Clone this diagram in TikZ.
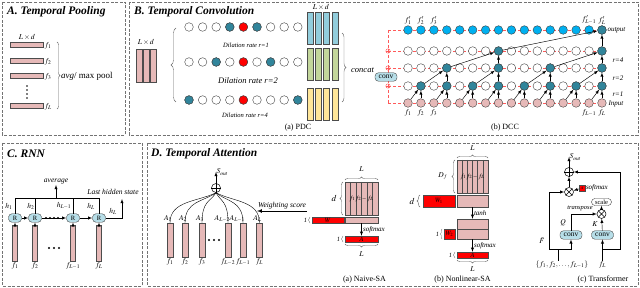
\documentclass[tikz,border=0pt]{standalone}
\usepackage{mathptmx}
\usepackage{fontspec}
\setmainfont{Liberation Serif}
\usepackage{amsmath,amssymb}
\usetikzlibrary{arrows,shapes,calc,decorations.pathreplacing}

\definecolor{pinkbar}{RGB}{230,185,184}
\definecolor{tealc}{RGB}{49,133,155}
\definecolor{skyc}{RGB}{0,176,240}
\definecolor{convc}{RGB}{183,222,232}
\definecolor{bluebar}{RGB}{146,205,220}
\definecolor{greenbar}{RGB}{195,214,155}
\definecolor{yellowbar}{RGB}{255,230,153}
\definecolor{dashred}{RGB}{255,90,90}

\tikzset{
panel/.style={draw=black!55,dash pattern=on 3pt off 1.5pt,line width=0.6pt},
ttl/.style={anchor=west,inner sep=0pt,font=\fontsize{11.5}{13}\selectfont\bfseries\itshape},
lbl/.style={inner sep=0.3pt,font=\fontsize{7}{8}\selectfont\itshape},
slbl/.style={inner sep=0.3pt,font=\fontsize{6.5}{7}\selectfont\itshape},
mlbl/.style={inner sep=0.3pt,font=\fontsize{7.5}{8}\selectfont},
capt/.style={inner sep=0.5pt,font=\fontsize{8}{9}\selectfont},
pbar/.style={draw=black!70,fill=pinkbar,inner sep=0pt,line width=0.4pt},
cdot/.style={circle,draw=black!75,fill=white,minimum size=8.6pt,inner sep=0pt,line width=0.4pt},
tdot/.style={cdot,fill=tealc},
pdot/.style={cdot,fill=pinkbar},
sdot/.style={cdot,fill=skyc},
convbox/.style={draw=black!75,fill=convc,rounded corners=3.5pt,minimum width=22pt,minimum height=8.5pt,inner sep=0pt,font=\fontsize{7.5}{8}\selectfont},
redbox/.style={draw=black!70,fill=red,inner sep=0pt,font=\fontsize{6.5}{7}\selectfont},
brc/.style={decorate,decoration={brace,amplitude=#1},draw=black!60},
brc/.default=3pt,
arr/.style={-latex,line width=0.45pt},
opnode/.style={circle,draw,minimum size=9pt,inner sep=0pt,line width=0.5pt}
}

\begin{document}
\begin{tikzpicture}[x=1pt,y=-1pt]
\useasboundingbox (0,0) rectangle (640,288);
\draw[panel] (2,2) rectangle (125,135) (129,2) rectangle (638,135)
  (2,143) rectangle (142,286) (147,143) rectangle (638,286);

% A
\node[ttl] (ta) at (7,12) {A. Temporal Pooling};
\node[mlbl] (ald) at (27,37) {$L\times d$};
\foreach \n/\y/\tx in {1/45/f_1,2/61/f_2,3/76/f_3,4/106/f_L}{
  \node[pbar,minimum width=33pt,minimum height=5pt] (pa\n) at (26.5,\y) {};
  \node[mlbl,anchor=west] (fa\n) at ($(pa\n.east)+(1,1)$) {$\tx$};
}
\foreach \y in {86,90,94,98} \fill (27,\y) circle (0.9);
\draw[brc=3pt] (57,42) -- (57,109);
\node[anchor=west,inner sep=0pt,font=\fontsize{9}{10}\selectfont] (pool) at (61,76) {\textit{avg}/ max pool};

% B
\node[ttl] (tb) at (134,12) {B. Temporal Convolution};
\node[mlbl] (bld) at (146,42) {$L\times d$};
\foreach \n/\x in {1/139,2/146,3/153}
  \node[pbar,minimum width=6pt,minimum height=33pt] (pi\n) at (\x,65.5) {};
\draw[brc=5pt] (176,102) -- (176,28);
\foreach \rw/\y in {1/27,2/62,3/100}
  \foreach \j in {0,...,8}
    \node[cdot] (p\rw\j) at ({189+13.6*\j},\y) {};
\foreach \rw/\j/\cl in {1/3/tealc,1/4/red,1/5/tealc,2/2/tealc,2/4/red,2/6/tealc,3/0/tealc,3/4/red,3/8/tealc}
  \node[cdot,fill=\cl] (p\rw\j) at (p\rw\j) {};
\node[slbl] (dr1) at (246,45) {Dilation rate r=1};
\node[lbl,font=\fontsize{8.5}{9}\selectfont\itshape] (dr2) at (248,81) {Dilation rate r=2};
\node[slbl] (dr4) at (245,115) {Dilation rate r=4};
\foreach \cl/\y/\m in {bluebar/28.5/u,greenbar/64.5/g,yellowbar/104/y}
  \foreach \k in {0,...,3}
    \node[pbar,fill=\cl,minimum width=6pt,minimum height=32pt] (o\m\k) at ({310+8.3*\k},\y) {};
\node[mlbl] (bld2) at (321,7) {$L\times d$};
\draw[brc=4pt] (342,33) -- (342,102);
\node[anchor=west,inner sep=0pt,font=\fontsize{8.5}{9}\selectfont\itshape] (cc) at (351,70) {concat};
\node[capt] (capa) at (298,128) {(a) PDC};

\foreach \y in {30,51,68,86,103} \draw[dashred,dash pattern=on 3pt off 2pt] (388,\y) -- (602,\y);
\draw[dashred,dash pattern=on 3pt off 2pt] (388,30) -- (388,103);
\foreach \y in {51,68,86}{
  \draw[dashred,fill=white] (388,\y) circle (2.2);
  \draw[dashred] (385.8,\y) -- (390.2,\y) (388,\y-2.2) -- (388,\y+2.2);
}
\node[convbox] (dconv) at (386,77) {conv};
\foreach \i in {0,...,15}{
  \node[pdot] (i\i) at ({408+12.93*\i},103) {};
  \node[cdot] (a\i) at ({408+12.93*\i},86) {};
  \node[cdot] (b\i) at ({408+12.93*\i},68) {};
  \node[cdot] (c\i) at ({408+12.93*\i},51) {};
  \node[sdot] (o\i) at ({408+12.93*\i},30) {};
}
\foreach \i in {1,3,...,15} \node[tdot] (a\i) at (a\i) {};
\foreach \i in {3,7,11,15} \node[tdot] (b\i) at (b\i) {};
\foreach \i in {7,15} \node[tdot] (c\i) at (c\i) {};
\node[tdot] (o15) at (o15) {};
\foreach \i in {1,3,...,15}{
  \pgfmathtruncatemacro{\pv}{\i-1}
  \draw[arr] (i\pv) -- (a\i); \draw[arr] (i\i) -- (a\i);
}
\foreach \i in {3,7,11,15}{
  \pgfmathtruncatemacro{\pv}{\i-2}
  \draw[arr] (a\pv) -- (b\i); \draw[arr] (a\i) -- (b\i);
}
\foreach \i in {7,15}{
  \pgfmathtruncatemacro{\pv}{\i-4}
  \draw[arr] (b\pv) -- (c\i); \draw[arr] (b\i) -- (c\i);
}
\draw[arr] (c7) -- (o15); \draw[arr] (c15) -- (o15);
\foreach \i/\tx in {0/f'_1,1/f'_2,2/f'_3,14/f'_{L-1},15/f'_L}
  \node[mlbl,inner sep=0pt,anchor=south] (fo\i) at ($(o\i.north)+(0,-1)$) {$\tx$};
\foreach \i/\tx in {0/f_1,1/f_2,2/f_3,14/f_{L-1},15/f_L}
  \node[mlbl,inner sep=0pt,anchor=north] (fi\i) at ($(i\i.south)+(0,2)$) {$\tx$};
\node[lbl,anchor=west] (lo) at (607,30) {output};
\node[lbl,anchor=west] (l4) at (612,60) {r=4};
\node[lbl,anchor=west] (l2) at (612,78) {r=2};
\node[lbl,anchor=west] (l1) at (612,94) {r=1};
\node[lbl,anchor=west] (lin) at (608,104) {Input};
\node[capt] (capb) at (505,128) {(b) DCC};

% C
\node[ttl] (tc) at (7,154) {C. RNN};
\foreach \n/\x/\tx in {1/15/f_1,2/35/f_2,3/73/f_{L-1},4/99/f_L}{
  \node[pbar,minimum width=5pt,minimum height=36pt] (rb\n) at (\x,243) {};
  \node[convbox,minimum width=13pt,font=\fontsize{6.5}{7}\selectfont] (rn\n) at (\x,218) {R};
  \node[mlbl,anchor=north] (rf\n) at ($(rb\n.south)+(0,1)$) {$\tx$};
  \draw[arr] (rb\n) -- (rn\n);
  \draw (rn\n.north) -- (\x,198);
}
\draw (15,198) -- (99,198);
\coordinate (avg) at (56,185);
\draw[arr] (56,198) -- (avg) node[lbl,anchor=south,font=\fontsize{7.5}{8}\selectfont\itshape] (avgl) {average};
\foreach \n/\x/\tx in {1/9/h_1,2/31/h_2,3/64/h_{L-1},4/91/h_L}
  \node[mlbl] (rh\n) at (\x,206) {$\tx$};
\draw[arr] (rn1) -- (rn2);
\draw[arr] (rn2) -- (rn3);
\foreach \x in {46,50,54,58} \fill (\x,218) circle (1.1);
\draw[arr] (rn3) -- (rn4);
\coordinate (last) at (122,199);
\draw[arr] (rn4.east) -| (last);
\node[mlbl] (rhl) at (113,211) {$h_L$};
\node[lbl,font=\fontsize{7.5}{8}\selectfont\itshape] (lhs) at (113,192) {Last hidden state};
\foreach \x in {49,54,59} \fill (\x,248) circle (1.1);

% D
\node[ttl] (td) at (151,154) {D. Temporal Attention};
\node[opnode] (sum) at (216,188) {};
\draw (sum.north) -- (sum.south) (sum.west) -- (sum.east);
\coordinate (sout) at (216,172);
\draw[arr] (sum) -- (sout) node[mlbl,anchor=west] (soutl) {$S_{out}$};
\foreach \n/\x/\tx/\ax in {1/170/f_1/A_1,2/185/f_2/A_2,3/202/f_3/A_3,4/228/f_{L-2}/A_{L-2},5/243/f_{L-1}/A_{L-1},6/259.5/f_L/A_L}{
  \node[pbar,minimum width=6pt,minimum height=34pt] (ab\n) at (\x,240) {};
  \node[mlbl,anchor=north] (af\n) at ($(ab\n.south)+(0,1)$) {$\tx$};
  \node[mlbl,anchor=south east] (aa\n) at ($(ab\n.north)+(2.5,-0.5)$) {$\ax$};
  \draw (ab\n.north) .. controls +(0,-22) and +({0.4*(\x-216)},9) .. (sum.south);
}
\foreach \x in {209,214,219} \fill (\x,240) circle (1.1);
\coordinate (ws1) at (307,211); \coordinate (ws0) at (257,211);
\draw[-latex,line width=0.7pt] (ws1) -- (ws0) node[midway,above=1.5pt,lbl,font=\fontsize{7.5}{8}\selectfont\itshape] (wsl) {Weighting score};

\node[pbar,minimum width=33pt,minimum height=33pt] (nm) at (361.5,198.5) {};
\foreach \k in {1,...,5} \draw[black!70,line width=0.4pt] ({345+5.5*\k},182) -- ({345+5.5*\k},215);
\node[font=\fontsize{6.5}{7}\selectfont,inner sep=0pt] (nmt) at (nm) {$f_1f_2\;\text{--}\;f_L$};
\draw[brc=3pt] (345,180) -- (378,180);
\node[mlbl] (nL1) at (361.5,169) {$L$};
\draw[brc=3pt] (343,215) -- (343,182);
\node[mlbl,font=\fontsize{9}{9}\selectfont] (nd) at (334,198.5) {$d$};
\node[redbox,minimum width=32pt,minimum height=6pt] (nw) at (328,220) {$W$};
\node[pbar,minimum width=33pt,minimum height=6pt] (nv) at (361.5,220) {};
\draw[brc=1.5pt] (310,223) -- (310,217);
\node[slbl] (n1a) at (305.5,220) {1};
\node[redbox,minimum width=33pt,minimum height=6pt] (na) at (361.5,239) {$A$};
\draw[arr] (nv) -- (na) node[midway,right=1pt,lbl] (nsm) {softmax};
\draw[brc=1.5pt] (343,242) -- (343,236);
\node[slbl] (n1b) at (338.5,239) {1};
\draw[brc=3pt] (378,244) -- (345,244);
\node[mlbl] (nL2) at (361.5,254) {$L$};
\node[capt] (capna) at (364.5,279.5) {(a) Naive-SA};

\node[pbar,minimum width=31pt,minimum height=33pt] (lm) at (472.5,176.5) {};
\foreach \k in {1,...,5} \draw[black!70,line width=0.4pt] ({457+5.17*\k},160) -- ({457+5.17*\k},193);
\node[font=\fontsize{6.5}{7}\selectfont,inner sep=0pt] (lmt) at (lm) {$f_1f_2\;\text{--}\;f_L$};
\draw[brc=3pt] (457,158) -- (488,158);
\node[mlbl] (lL1) at (472.5,148) {$L$};
\draw[brc=3pt] (455,193) -- (455,160);
\node[mlbl] (ldf) at (443,176.5) {$D_f$};
\node[redbox,minimum width=32pt,minimum height=12pt] (lw1) at (439,201) {$W_1$};
\node[pbar,minimum width=31pt,minimum height=12pt] (lp1) at (472.5,201) {};
\draw[brc=3pt] (420,207) -- (420,195);
\node[mlbl,font=\fontsize{9}{9}\selectfont] (ld) at (412,201) {$d$};
\node[pbar,minimum width=31pt,minimum height=10pt] (lp2) at (472.5,224) {};
\node[pbar,minimum width=31pt,minimum height=10pt] (lp3) at (472.5,234) {};
\node[redbox,minimum width=11pt,minimum height=10pt] (lw2) at (449.5,234) {$W_2$};
\draw[arr] (lp1) -- (lp2) node[midway,right=1pt,lbl] (ltanh) {tanh};
\draw[brc=1.5pt] (442,239) -- (442,229);
\node[slbl] (l1a) at (437.5,234) {1};
\node[redbox,minimum width=31pt,minimum height=6pt] (la) at (472.5,255) {$A$};
\draw[arr] (lp3) -- (la) node[midway,right=1pt,lbl] (lsm) {softmax};
\draw[brc=1.5pt] (455,258) -- (455,252);
\node[slbl] (l1b) at (450.5,255) {1};
\draw[brc=3pt] (488,260) -- (457,260);
\node[mlbl] (lL2) at (472.5,269.5) {$L$};
\node[capt] (capnl) at (462.5,280) {(b) Nonlinear-SA};

\node[opnode] (tsum) at (569,172) {};
\draw (tsum.north) -- (tsum.south) (tsum.west) -- (tsum.east);
\node[opnode] (tm1) at (569,192) {};
\draw (tm1.north west) -- (tm1.south east) (tm1.north east) -- (tm1.south west);
\node[redbox,minimum size=5.5pt,font=\fontsize{4}{4}\selectfont] (tsq) at (582,188) {$A$};
\node[lbl,anchor=west] (tsm) at (585.5,188) {softmax};
\node[convbox,fill=white,minimum width=20pt,minimum height=7pt,font=\fontsize{6.5}{7}\selectfont] (tsc) at (601.5,202) {scale};
\node[opnode] (tm2) at (601.5,214) {};
\draw (tm2.north west) -- (tm2.south east) (tm2.north east) -- (tm2.south west);
\node[slbl] (ttr) at (580,208) {transpose};
\node[convbox] (tcq) at (571,235) {conv};
\node[convbox] (tck) at (602.5,235) {conv};
\node[mlbl] (tq) at (563,223) {$Q$};
\node[mlbl] (tk) at (595,224) {$K$};
\node[mlbl] (tin) at (562,265) {$\{f_1,f_2,\ldots,f_{L-1}\}$};
\node[mlbl] (tfl) at (602.5,265) {$f_L$};
\node[mlbl] (tfb) at (542,241) {$\bar{F}$};
\coordinate (tl) at (549,249);
\coordinate (tj) at (558,249);
\coordinate (tr) at (620,249);
\coordinate (tout) at (569,157);
\draw (tin.north -| tj) -- (tj);
\draw[arr] (tl) |- (tm1.west);
\draw[arr] (tl) -| (tcq.south);
\draw[arr] (tfl) -- (tck);
\draw[arr] (tfl.north |- tr) -- (tr) |- (tsum.east);
\draw[arr] (tcq.north) |- (tm2.west);
\draw[arr] (tck) -- (tm2);
\draw[arr] (tm2) -- (tsc);
\draw[arr] (tsq) -- (tm1);
\draw[arr] (tm1) -- (tsum);
\draw[arr] (tsum) -- (tout) node[mlbl,anchor=west] (tsout) {$S_{out}$};
\node[capt] (captr) at (603,279.5) {(c) Transformer};
\end{tikzpicture}
\end{document}
